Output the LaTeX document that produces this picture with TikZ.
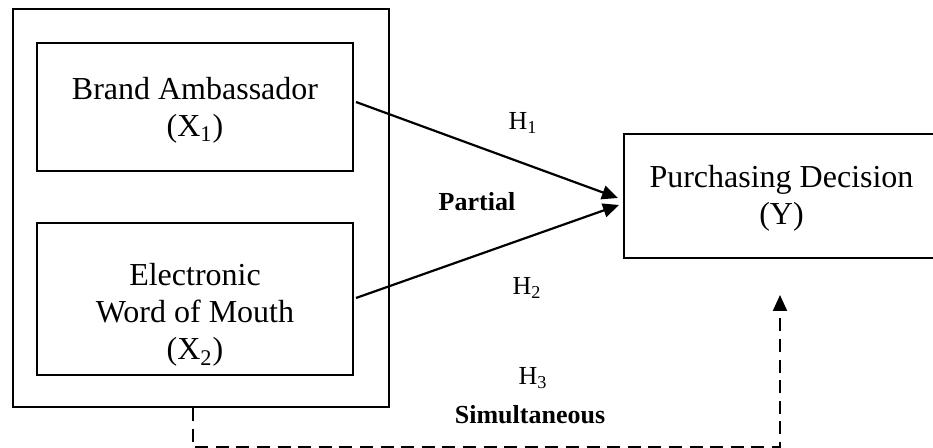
\documentclass[tikz,border=0pt]{standalone}
\usepackage{fontspec}
\setmainfont{Liberation Serif}
\usetikzlibrary{arrows.meta,calc}
\tikzset{
  box/.style={draw,line width=1pt,inner sep=0pt},
  boxtext/.style={align=center,font=\fontsize{16}{18.6}\selectfont,inner sep=0pt},
  lab/.style={font=\fontsize{13}{15}\selectfont,inner sep=0pt},
  blab/.style={font=\fontsize{13}{15}\selectfont\bfseries,inner sep=0pt},
  arr/.style={line width=1.1pt,-{Triangle[length=8pt,width=7pt]}},
  darr/.style={line width=1pt,dash pattern=on 6.5pt off 3.8pt,-{Triangle[length=8pt,width=7pt]}}
}
\begin{document}
\begin{tikzpicture}[x=0.5pt,y=-0.5pt]
\useasboundingbox (0,0) rectangle (933,448);
\clip (0,0) rectangle (933,448);
\node[box,minimum width=188pt,minimum height=199pt] (outer) at (201,208) {};
\node[box,minimum width=158pt,minimum height=64pt] (b1) at (195,107) {};
\node[box,minimum width=158pt,minimum height=76pt] (b2) at (195,299) {};
\node[box,minimum width=157.5pt,minimum height=62pt] (py) at (781.5,196) {};
\node[boxtext] (b1t) at (195,110) {Brand Ambassador\\(X\textsubscript{1})};
\node[boxtext] (b2t) at (195,315) {Electronic\\Word of Mouth\\(X\textsubscript{2})};
\node[boxtext] (pyt) at (781.5,198.5) {Purchasing Decision\\(Y)};
\node[lab] (h1) at (523,123) {H\textsubscript{1}};
\node[blab] (partial) at (477,202) {Partial};
\node[lab] (h2) at (527,288) {H\textsubscript{2}};
\node[lab] (h3) at (533,378) {H\textsubscript{3}};
\node[blab] (sim) at (530,415) {Simultaneous};
\coordinate (e1) at ($(py.west)+(-5,2)$);
\coordinate (e2) at ($(py.west)+(-4,9)$);
\coordinate (dtip) at (780,295);
\draw[arr] ($(b1.east)+(2,-5)$) -- (e1);
\draw[arr] ($(b2.east)+(2,-1)$) -- (e2);
\draw[darr] ($(outer.south)+(-8,0)$) -- ++(0,39) -| (dtip);
\end{tikzpicture}
\end{document}
